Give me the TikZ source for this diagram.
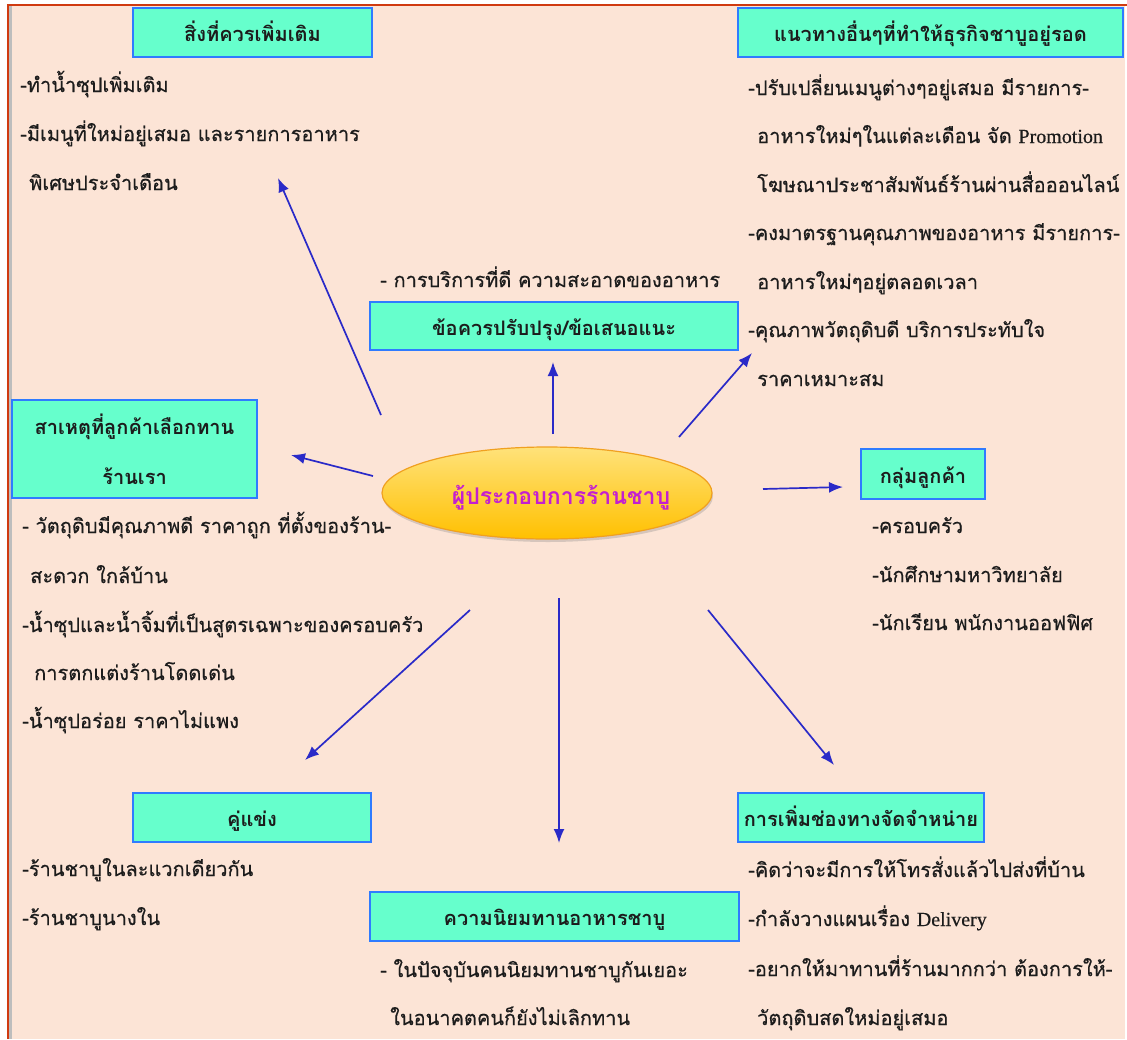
\documentclass[tikz,border=0pt]{standalone}
\usepackage{fontspec}
\newfontfamily\thai[Script=Thai]{Loma}
\newfontfamily\thaibody[Script=Thai,FakeBold=0.5]{Loma}
\newfontfamily\lat[FakeBold=0.5]{Liberation Serif}
\usetikzlibrary{shapes.geometric,arrows.meta,shadows}
\definecolor{bgpeach}{HTML}{FCE4D6}
\definecolor{boxfill}{HTML}{66FFCC}
\definecolor{boxblue}{HTML}{2F7BFF}
\definecolor{arrblue}{HTML}{2A2AC8}
\definecolor{txt}{HTML}{1C1C1C}
\definecolor{framered}{HTML}{D03A10}
\definecolor{framegray}{HTML}{BDBDBD}
\definecolor{hubtext}{HTML}{C41FD0}
\definecolor{hubtop}{HTML}{FFE27A}
\definecolor{hubbot}{HTML}{FFC000}
\definecolor{hubline}{HTML}{F0A020}
\tikzset{
  hdr/.style={draw=boxblue, line width=1.6pt, fill=boxfill, inner sep=0pt,
    font=\thai\bfseries\fontsize{20}{23}\selectfont, text=txt,
    text height=18pt, text depth=0pt},
  hdrtwo/.style={draw=boxblue, line width=1.6pt, fill=boxfill, inner sep=0pt,
    font=\thai\bfseries\fontsize{20}{50}\selectfont, text=txt, align=center},
  itm/.style={anchor=base west, inner sep=0pt,
    font=\thaibody\fontsize{20}{23}\selectfont, text=txt},
  arr/.style={-{Latex[length=14pt,width=11pt]}, line width=1.7pt, draw=arrblue}
}
\begin{document}
\begin{tikzpicture}[x=1pt,y=-1pt]
\useasboundingbox (0,0) rectangle (1127,1039);
% frame
\fill[bgpeach] (11,6) rectangle (1125,1039);
\draw[framegray, line width=2.5pt] (10.5,6) -- (10.5,1039);
\draw[framered, line width=2.5pt] (8,4.5) -- (8,1039);
\draw[framered, line width=2.5pt] (6.8,5) -- (1127,5);

% hub
\node[ellipse, draw=hubline, line width=1.2pt, top color=hubtop, bottom color=hubbot,
  drop shadow={shadow xshift=1pt, shadow yshift=-3pt, opacity=0.3},
  minimum width=330pt, minimum height=92pt, inner xsep=-60pt, inner ysep=-20pt,
  font=\thai\bfseries\fontsize{23}{26}\selectfont, text=hubtext,
  text height=22pt, text depth=0pt] (hub) at (547,493) {\hspace*{28pt}ผู้ประกอบการร้านชาบู};

% header boxes
\node[hdr, minimum width=239pt, minimum height=49pt] (b1) at (252.5,32.5) {สิ่งที่ควรเพิ่มเติม};
\node[hdr, minimum width=385pt, minimum height=49pt] (b2) at (930.5,32.5) {แนวทางอื่นๆที่ทำให้ธุรกิจชาบูอยู่รอด};
\node[hdr, minimum width=368pt, minimum height=48pt] (b3) at (554,326) {ข้อควรปรับปรุง/ข้อเสนอแนะ};
\node[hdrtwo, minimum width=245pt, minimum height=98pt] (b4) at (134.5,449) {สาเหตุที่ลูกค้าเลือกทาน\\ร้านเรา};
\node[hdr, minimum width=124pt, minimum height=50pt] (b5) at (923,474) {กลุ่มลูกค้า};
\node[hdr, minimum width=238pt, minimum height=49pt] (b6) at (252,817.5) {คู่แข่ง};
\node[hdr, minimum width=369pt, minimum height=49pt] (b7) at (554.5,916.5) {ความนิยมทานอาหารชาบู};
\node[hdr, minimum width=246pt, minimum height=49pt] (b8) at (861,817.5) {การเพิ่มช่องทางจัดจำหน่าย};

% list texts
\node[itm] (t1a) at (20,92) {-ทำน้ำซุปเพิ่มเติม};
\node[itm] (t1b) at (20,141) {-มีเมนูที่ใหม่อยู่เสมอ และรายการอาหาร};
\node[itm] (t1c) at (29,190) {พิเศษประจำเดือน};

\node[itm] (t2a) at (748,95) {-ปรับเปลี่ยนเมนูต่างๆอยู่เสมอ มีรายการ-};
\node[itm] (t2b) at (757,143) {อาหารใหม่ๆในแต่ละเดือน จัด {\lat Promotion}};
\node[itm] (t2c) at (757,192) {โฆษณาประชาสัมพันธ์ร้านผ่านสื่อออนไลน์};
\node[itm] (t2d) at (748,240) {-คงมาตรฐานคุณภาพของอาหาร มีรายการ-};
\node[itm] (t2e) at (757,289) {อาหารใหม่ๆอยู่ตลอดเวลา};
\node[itm] (t2f) at (748,337) {-คุณภาพวัตถุดิบดี บริการประทับใจ};
\node[itm] (t2g) at (757,386) {ราคาเหมาะสม};

\node[itm] (t3a) at (380,287) {- การบริการที่ดี ความสะอาดของอาหาร};

\node[itm] (t4a) at (22,533) {- วัตถุดิบมีคุณภาพดี ราคาถูก ที่ตั้งของร้าน-};
\node[itm] (t4b) at (30,583) {สะดวก ใกล้บ้าน};
\node[itm] (t4c) at (22,632) {-น้ำซุปและน้ำจิ้มที่เป็นสูตรเฉพาะของครอบครัว};
\node[itm] (t4d) at (34,680) {การตกแต่งร้านโดดเด่น};
\node[itm] (t4e) at (22,728) {-น้ำซุปอร่อย ราคาไม่แพง};

\node[itm] (t5a) at (872,533) {-ครอบครัว};
\node[itm] (t5b) at (872,582) {-นักศึกษามหาวิทยาลัย};
\node[itm] (t5c) at (872,630) {-นักเรียน พนักงานออฟฟิศ};

\node[itm] (t6a) at (22,876) {-ร้านชาบูในละแวกเดียวกัน};
\node[itm] (t6b) at (22,925) {-ร้านชาบูนางใน};

\node[itm] (t7a) at (380,977) {- ในปัจจุบันคนนิยมทานชาบูกันเยอะ};
\node[itm] (t7b) at (390,1025) {ในอนาคตคนก็ยังไม่เลิกทาน};

\node[itm] (t8a) at (748,877) {-คิดว่าจะมีการให้โทรสั่งแล้วไปส่งที่บ้าน};
\node[itm] (t8b) at (748,926) {-กำลังวางแผนเรื่อง {\lat Delivery}};
\node[itm] (t8c) at (748,976) {-อยากให้มาทานที่ร้านมากกว่า ต้องการให้-};
\node[itm] (t8d) at (757,1025) {วัตถุดิบสดใหม่อยู่เสมอ};

% arrow end points
\coordinate (s1) at (381,415); \coordinate (e1) at (278,178);
\coordinate (s2) at (679,437); \coordinate (e2) at (752,353);
\coordinate (s3) at (553,434); \coordinate (e3) at (553,362);
\coordinate (s4) at (373,476); \coordinate (e4) at (291,455);
\coordinate (s5) at (763,489); \coordinate (e5) at (843,487);
\coordinate (s6) at (470,610); \coordinate (e6) at (305,760);
\coordinate (s7) at (559,598); \coordinate (e7) at (559,843);
\coordinate (s8) at (708,610); \coordinate (e8) at (834,765);
\foreach \i in {1,...,8} { \draw[arr] (s\i) -- (e\i); }
\end{tikzpicture}
\end{document}
